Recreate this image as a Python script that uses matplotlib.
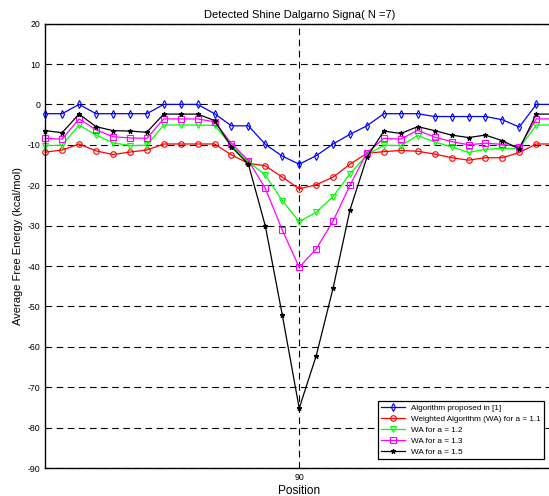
import numpy as np
import matplotlib
matplotlib.use("Agg")
import matplotlib.pyplot as plt

plt.rcParams['font.family'] = ['Liberation Sans', 'DejaVu Sans']
plt.rcParams['axes.unicode_minus'] = False

# positions around the signal (tick only at 90)
positions = list(range(75, 106))

blue = [-2.3, -2.3, 0.0, -2.3, -2.3, -2.3, -2.3, 0.0, 0.0, 0.0, -2.3,
        -5.3, -5.3, -9.9, -12.8, -14.8, -12.7, -9.8, -7.4, -5.3, -2.3,
        -2.3, -2.3, -3.0, -3.0, -3.0, -3.0, -3.8, -5.6, 0.0, 0.0]
red = [-11.8, -11.3, -9.8, -11.5, -12.4, -11.8, -11.3, -9.8, -9.8, -9.8, -9.8,
       -12.5, -14.6, -15.2, -18.0, -20.9, -19.9, -18.0, -14.8, -12.1, -11.7,
       -11.4, -11.6, -12.3, -13.2, -13.8, -13.2, -13.2, -11.9, -9.8, -9.8]
green = [-10.2, -10.1, -5.1, -7.6, -9.5, -10.2, -10.1, -5.1, -5.1, -5.1, -5.2,
         -10.2, -14.2, -17.5, -23.8, -29.0, -26.7, -22.8, -17.2, -12.5, -10.1,
         -10.2, -7.7, -9.3, -10.5, -11.9, -11.1, -10.9, -10.9, -5.1, -5.1]
magenta = [-8.4, -8.6, -3.6, -6.3, -8.0, -8.3, -8.4, -3.6, -3.6, -3.6, -4.3,
           -9.7, -13.9, -20.8, -31.1, -40.3, -35.8, -28.9, -20.0, -12.0, -8.4,
           -8.6, -6.4, -8.1, -9.2, -10.0, -9.6, -9.9, -10.5, -3.6, -3.6]
black = [-6.5, -7.0, -2.4, -5.5, -6.5, -6.6, -6.9, -2.4, -2.4, -2.4, -4.0,
         -10.5, -14.8, -30.1, -52.1, -75.2, -62.3, -45.5, -26.1, -13.1, -6.6,
         -7.2, -5.5, -6.5, -7.6, -8.2, -7.6, -9.0, -11.0, -2.4, -2.4]

labels = ['Algorithm proposed in [1]',
          'Weighted Algorithm (WA) for a = 1.1',
          'WA for a = 1.2',
          'WA for a = 1.3',
          'WA for a = 1.5']
yticks = list(range(-90, 21, 10))

fig = plt.figure(figsize=(5.49, 4.96), dpi=100)
# axes runs slightly past the right edge, like the cropped original
ax = fig.add_axes([45.2 / 549, 28 / 496, 508 / 549, 444.4 / 496])

series = [(blue, '#0000ff', 'd', 4), (red, '#ff0000', 'o', 4),
          (green, '#00ff00', 'v', 4), (magenta, '#ff00ff', 's', 4),
          (black, 'k', '*', 3.5)]
for (vals, c, m, ms), lab in zip(series, labels):
    ax.plot(positions, vals, color=c, marker=m, markersize=ms,
            markerfacecolor='none' if m != '*' else c, markeredgewidth=0.8,
            lw=0.9, label=lab, clip_on=False)

ax.set_xlim(75, 105)
ax.set_ylim(-90, 20)
ax.set_xticks([90])
ax.set_yticks(yticks)
ax.tick_params(direction='in', labelsize=6.3, length=3, width=0.6)

for y in yticks:
    ax.axhline(y, color='k', lw=0.8, dashes=(6, 4), zorder=0)
ax.axvline(90, color='k', lw=0.8, dashes=(6, 4), zorder=0)

for s in ax.spines.values():
    s.set_linewidth(1.0)

ax.set_title('Detected Shine Dalgarno Signa( N =7)', fontsize=8, pad=4)
ax.set_xlabel('Position', fontsize=8.5, labelpad=2)
ax.set_ylabel('Average Free Energy (kcal/mol)', fontsize=8, labelpad=3)

leg = ax.legend(loc='lower right', bbox_to_anchor=(544 / 549, (496 - 459) / 496),
                bbox_transform=fig.transFigure, fontsize=5.85, frameon=True,
                fancybox=False, edgecolor='k', framealpha=1,
                handlelength=3.0, labelspacing=0.4, borderpad=0.4,
                handletextpad=0.7, borderaxespad=0)
leg.get_frame().set_linewidth(0.9)

fig.savefig('out.png', dpi=100)
